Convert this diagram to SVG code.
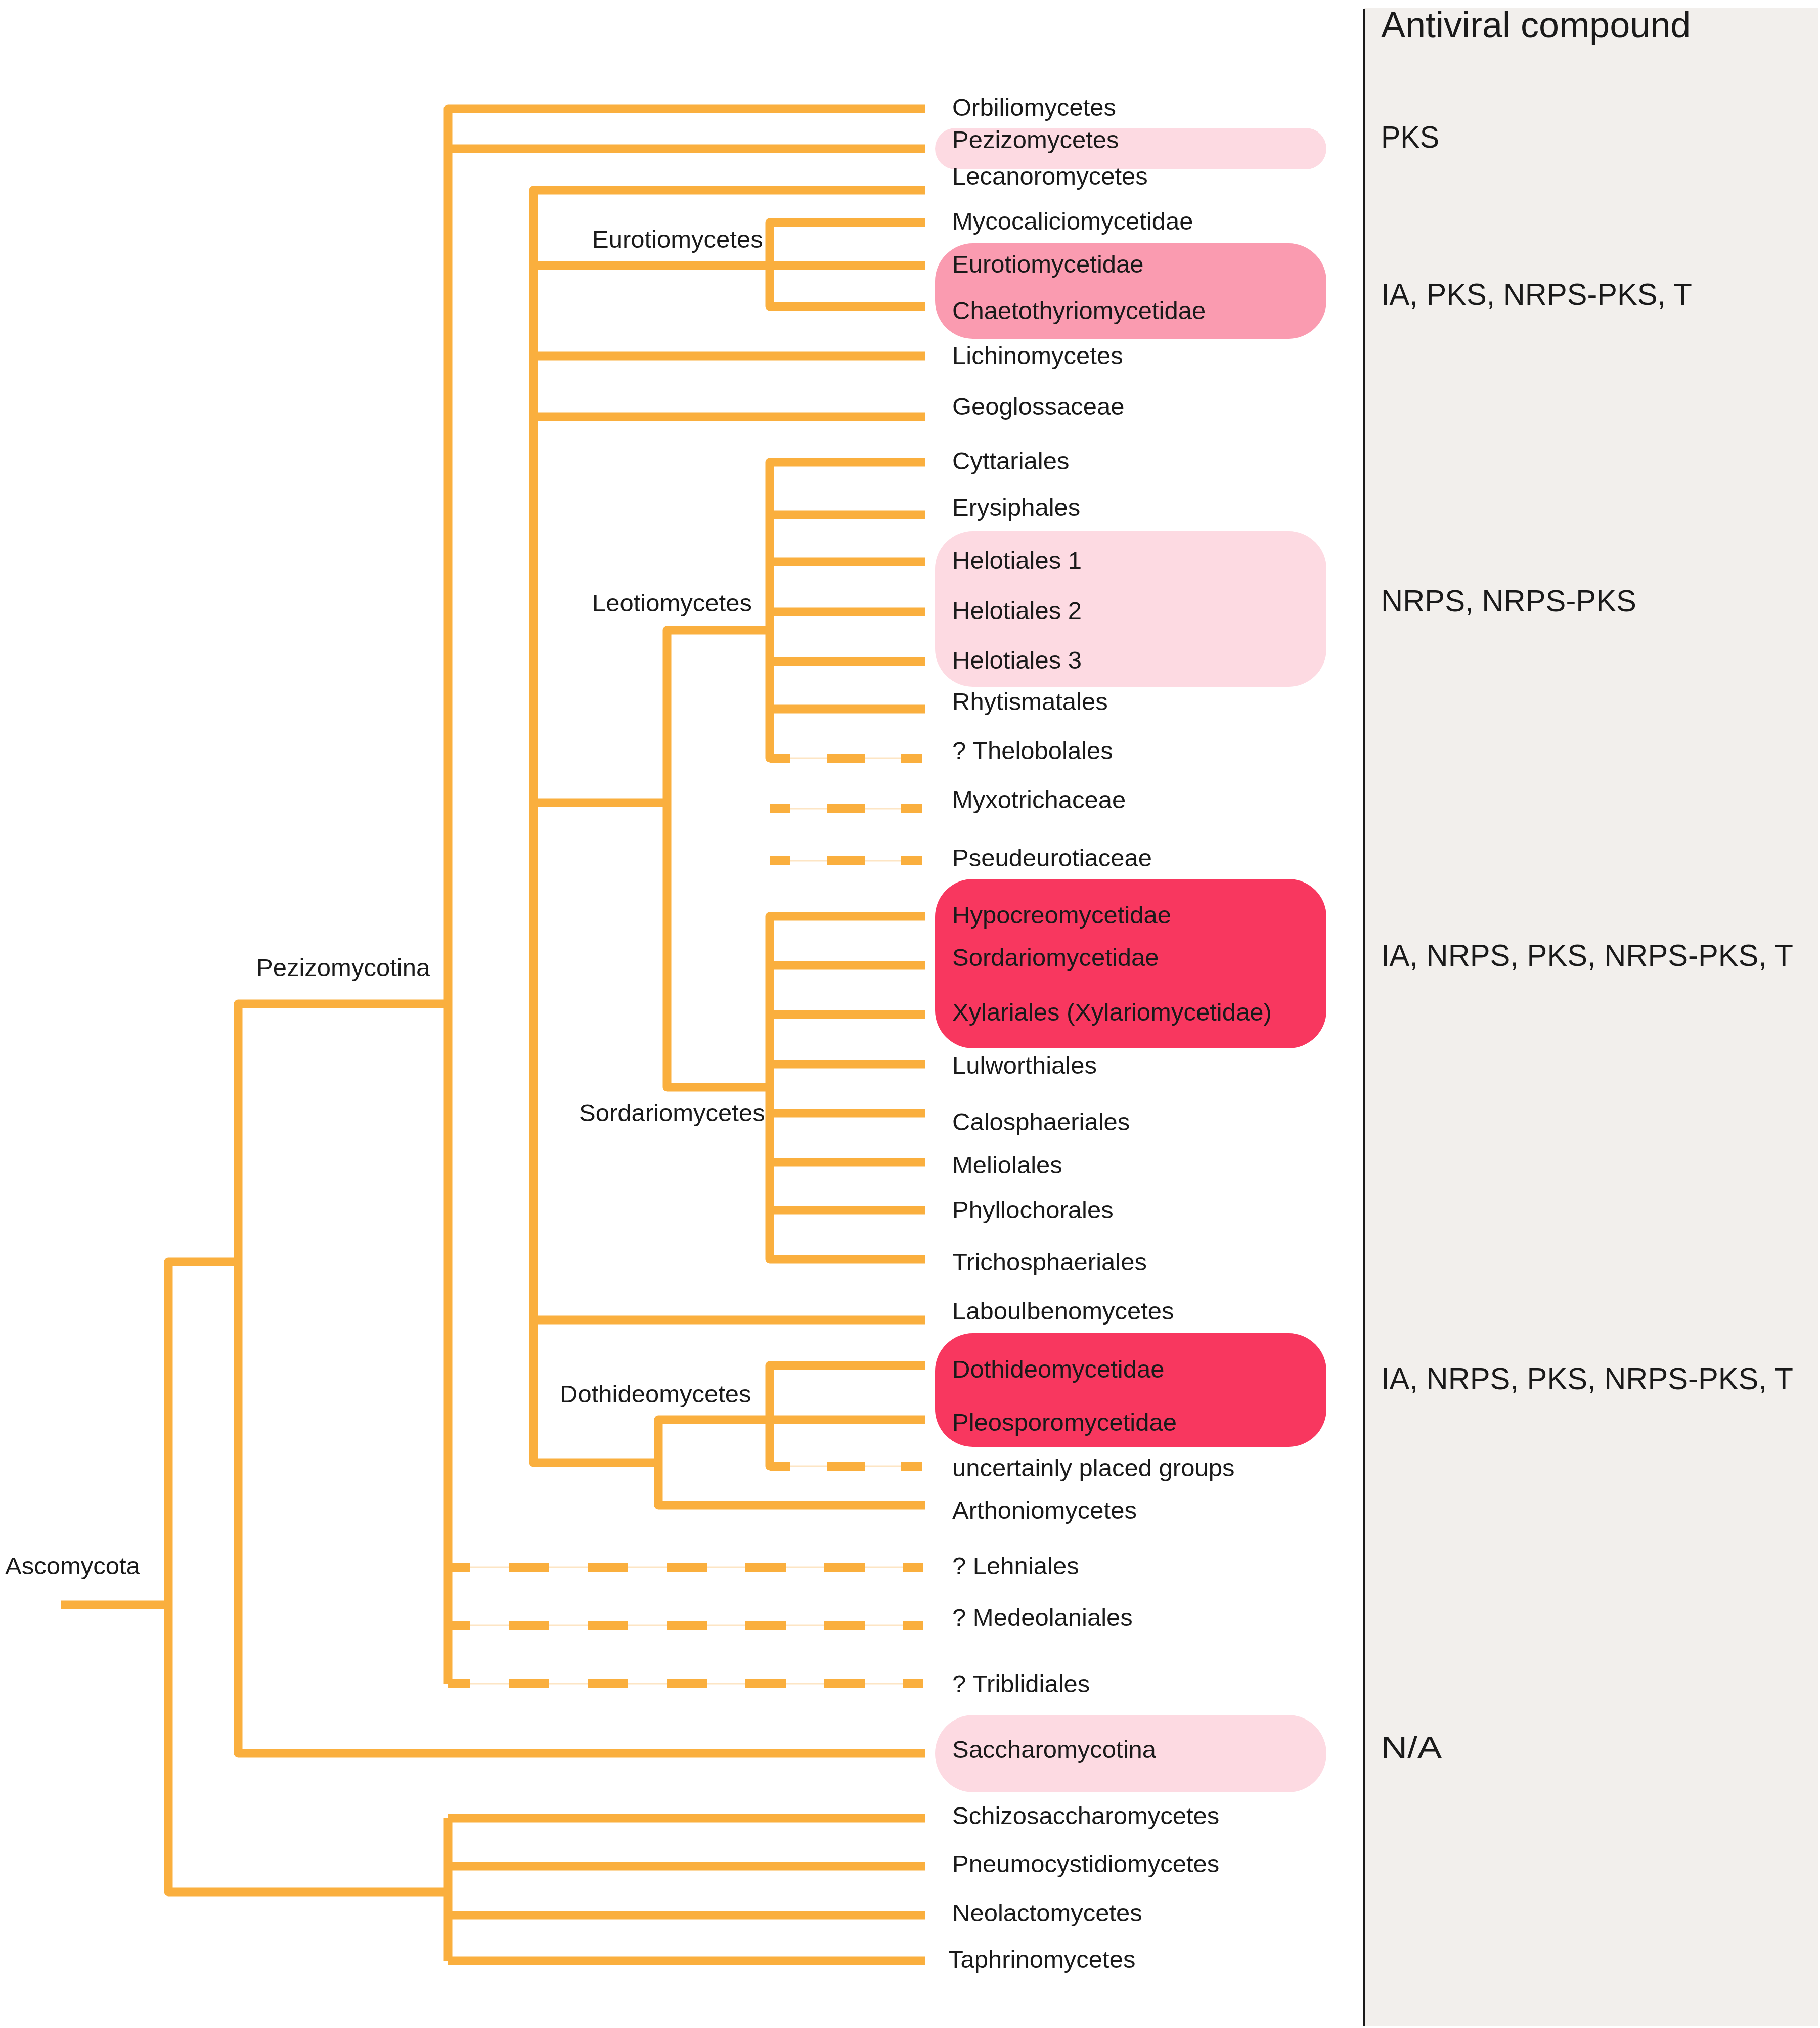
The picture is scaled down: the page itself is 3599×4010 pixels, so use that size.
<svg xmlns="http://www.w3.org/2000/svg" width="3599" height="4010" viewBox="0 0 3599 4010">
<style>
.br{fill:none;stroke:#FAAF3E;stroke-width:17;stroke-linejoin:round;stroke-linecap:butt}
.thin{fill:none;stroke:#FDE5C4;stroke-width:3}
.dsA{fill:none;stroke:#FAAF3E;stroke-width:18;stroke-dasharray:80 76;stroke-dashoffset:36}
.dsB{fill:none;stroke:#FAAF3E;stroke-width:18;stroke-dasharray:75 72;stroke-dashoffset:34}
.lb{font-family:"Liberation Sans",Arial,sans-serif;font-size:49px;fill:#1a1a1a}
.hd{font-family:"Liberation Sans",Arial,sans-serif;font-size:72px;fill:#1a1a1a}
.cp{font-family:"Liberation Sans",Arial,sans-serif;font-size:62px;fill:#1a1a1a}
.light{fill:#FDDAE2}
.mid{fill:#FA9BB0}
.red{fill:#F8375F}
</style>
<rect x="0" y="0" width="3599" height="4010" fill="#ffffff"/>
<g id="panel">
<rect x="2697" y="16" width="898" height="3990" fill="#F2EFEC"/>
<line x1="2697" y1="18" x2="2697" y2="4006" stroke="#1a1a1a" stroke-width="4"/>
</g>
<g id="highlights">
<rect id="hl-pezizo" class="light" x="1849" y="253" width="774" height="82" rx="41"/>
<rect id="hl-eurotio" class="mid" x="1849" y="481" width="774" height="189" rx="75"/>
<rect id="hl-helotiales" class="light" x="1849" y="1050" width="774" height="308" rx="75"/>
<rect id="hl-sordario" class="red" x="1849" y="1738" width="774" height="335" rx="75"/>
<rect id="hl-dothideo" class="red" x="1849" y="2636" width="774" height="225" rx="75"/>
<rect id="hl-saccharo" class="light" x="1849" y="3391" width="774" height="153" rx="76"/>
</g>
<g id="connectors">
<path class="br" d="M120,3173 H333" stroke-linecap="round"/>
<path class="br" d="M471,2495 H333 V3741 H886"/>
<path class="br" d="M886,3595 V3877"/>
<path class="br" d="M886,3595 H1830 M886,3690 H1830 M886,3787 H1830 M886,3877 H1830"/>
<path class="br" d="M886,1985 H471 V3467 H1830"/>
<path class="br" d="M1830,215 H886 V3329"/>
<path class="br" d="M886,294 H1830"/>
<path class="br" d="M1830,376 H1055 V2892 H1302"/>
<path class="br" d="M1055,525 H1830 M1055,704 H1830 M1055,824 H1830 M1055,1587 H1319 M1055,2610 H1830"/>
<path class="br" d="M1830,440 H1522 V606 H1830"/>
<path class="br" d="M1522,1246 H1319 V2150 H1522"/>
<path class="br" d="M1830,914 H1522 V1499 H1563"/>
<path class="br" d="M1522,1018 H1830 M1522,1111 H1830 M1522,1210 H1830 M1522,1308 H1830 M1522,1402 H1830"/>
<path class="br" d="M1830,1812 H1522 V2490 H1830"/>
<path class="br" d="M1522,1909 H1830 M1522,2006 H1830 M1522,2104 H1830 M1522,2201 H1830 M1522,2298 H1830 M1522,2393 H1830"/>
<path class="br" d="M1830,2700 H1522 V2899 H1560"/>
<path class="br" d="M1830,2807 H1302 V2976 H1830"/>
<path class="thin" d="M886,3099 H1826 M886,3214 H1826 M886,3329 H1826"/>
<path class="dsA" d="M886,3099 H1826 M886,3214 H1826 M886,3329 H1826"/>
<path class="thin" d="M1522,1499 H1823 M1522,1599 H1823 M1522,1702 H1823 M1522,2899 H1823"/>
<path class="dsB" d="M1522,1499 H1823 M1522,1599 H1823 M1522,1702 H1823 M1522,2899 H1823"/>
</g>
<g id="clade-labels">
<g id="n-ascomycota"><text class="lb" x="10" y="3113">Ascomycota</text></g>
<g id="n-pezizomycotina"><text class="lb" x="507" y="1930">Pezizomycotina</text></g>
<g id="n-eurotiomycetes"><text class="lb" x="1171" y="490">Eurotiomycetes</text></g>
<g id="n-leotiomycetes"><text class="lb" x="1171" y="1209">Leotiomycetes</text></g>
<g id="n-sordariomycetes"><text class="lb" x="1145" y="2217">Sordariomycetes</text></g>
<g id="n-dothideomycetes"><text class="lb" x="1107" y="2773">Dothideomycetes</text></g>
</g>
<g id="taxa">
<g id="t-orbilio"><text class="lb" x="1883" y="229">Orbiliomycetes</text></g>
<g id="t-pezizo"><text class="lb" x="1883" y="293">Pezizomycetes</text></g>
<g id="t-lecanoro"><text class="lb" x="1883" y="365">Lecanoromycetes</text></g>
<g id="t-mycocalicio"><text class="lb" x="1883" y="454">Mycocaliciomycetidae</text></g>
<g id="t-eurotiomycetidae"><text class="lb" x="1883" y="539">Eurotiomycetidae</text></g>
<g id="t-chaetothyrio"><text class="lb" x="1883" y="631">Chaetothyriomycetidae</text></g>
<g id="t-lichino"><text class="lb" x="1883" y="720">Lichinomycetes</text></g>
<g id="t-geoglossaceae"><text class="lb" x="1883" y="820">Geoglossaceae</text></g>
<g id="t-cyttariales"><text class="lb" x="1883" y="928">Cyttariales</text></g>
<g id="t-erysiphales"><text class="lb" x="1883" y="1020">Erysiphales</text></g>
<g id="t-helotiales1"><text class="lb" x="1883" y="1125">Helotiales 1</text></g>
<g id="t-helotiales2"><text class="lb" x="1883" y="1224">Helotiales 2</text></g>
<g id="t-helotiales3"><text class="lb" x="1883" y="1322">Helotiales 3</text></g>
<g id="t-rhytismatales"><text class="lb" x="1883" y="1404">Rhytismatales</text></g>
<g id="t-thelobolales"><text class="lb" x="1883" y="1501">? Thelobolales</text></g>
<g id="t-myxotrichaceae"><text class="lb" x="1883" y="1598">Myxotrichaceae</text></g>
<g id="t-pseudeurotiaceae"><text class="lb" x="1883" y="1713">Pseudeurotiaceae</text></g>
<g id="t-hypocreo"><text class="lb" x="1883" y="1826">Hypocreomycetidae</text></g>
<g id="t-sordariomycetidae"><text class="lb" x="1883" y="1910">Sordariomycetidae</text></g>
<g id="t-xylariales"><text class="lb" x="1883" y="2018">Xylariales (Xylariomycetidae)</text></g>
<g id="t-lulworthiales"><text class="lb" x="1883" y="2123">Lulworthiales</text></g>
<g id="t-calosphaeriales"><text class="lb" x="1883" y="2235">Calosphaeriales</text></g>
<g id="t-meliolales"><text class="lb" x="1883" y="2320">Meliolales</text></g>
<g id="t-phyllochorales"><text class="lb" x="1883" y="2409">Phyllochorales</text></g>
<g id="t-trichosphaeriales"><text class="lb" x="1883" y="2512">Trichosphaeriales</text></g>
<g id="t-laboulbeno"><text class="lb" x="1883" y="2609">Laboulbenomycetes</text></g>
<g id="t-dothideomycetidae"><text class="lb" x="1883" y="2724">Dothideomycetidae</text></g>
<g id="t-pleosporo"><text class="lb" x="1883" y="2829">Pleosporomycetidae</text></g>
<g id="t-uncertain"><text class="lb" x="1883" y="2919">uncertainly placed groups</text></g>
<g id="t-arthonio"><text class="lb" x="1883" y="3003">Arthoniomycetes</text></g>
<g id="t-lehniales"><text class="lb" x="1883" y="3113">? Lehniales</text></g>
<g id="t-medeolaniales"><text class="lb" x="1883" y="3215">? Medeolaniales</text></g>
<g id="t-triblidiales"><text class="lb" x="1883" y="3346">? Triblidiales</text></g>
<g id="t-saccharomycotina"><text class="lb" x="1883" y="3476">Saccharomycotina</text></g>
<g id="t-schizo"><text class="lb" x="1883" y="3607">Schizosaccharomycetes</text></g>
<g id="t-pneumo"><text class="lb" x="1883" y="3702">Pneumocystidiomycetes</text></g>
<g id="t-neolacto"><text class="lb" x="1883" y="3799">Neolactomycetes</text></g>
<g id="t-taphrino"><text class="lb" x="1875" y="3891">Taphrinomycetes</text></g>
</g>
<g id="compounds">
<g id="c-header"><text class="hd" x="2731" y="74">Antiviral compound</text></g>
<g id="c-pks"><text class="cp" x="2731" y="292" textLength="115" lengthAdjust="spacingAndGlyphs">PKS</text></g>
<g id="c-eurotio"><text class="cp" x="2731" y="603" textLength="615" lengthAdjust="spacingAndGlyphs">IA, PKS, NRPS-PKS, T</text></g>
<g id="c-leotio"><text class="cp" x="2731" y="1209" textLength="505" lengthAdjust="spacingAndGlyphs">NRPS, NRPS-PKS</text></g>
<g id="c-sordario"><text class="cp" x="2731" y="1910" textLength="815" lengthAdjust="spacingAndGlyphs">IA, NRPS, PKS, NRPS-PKS, T</text></g>
<g id="c-dothideo"><text class="cp" x="2731" y="2747" textLength="815" lengthAdjust="spacingAndGlyphs">IA, NRPS, PKS, NRPS-PKS, T</text></g>
<g id="c-na"><text class="cp" x="2731" y="3476" textLength="120" lengthAdjust="spacingAndGlyphs">N/A</text></g>
</g>
</svg>
